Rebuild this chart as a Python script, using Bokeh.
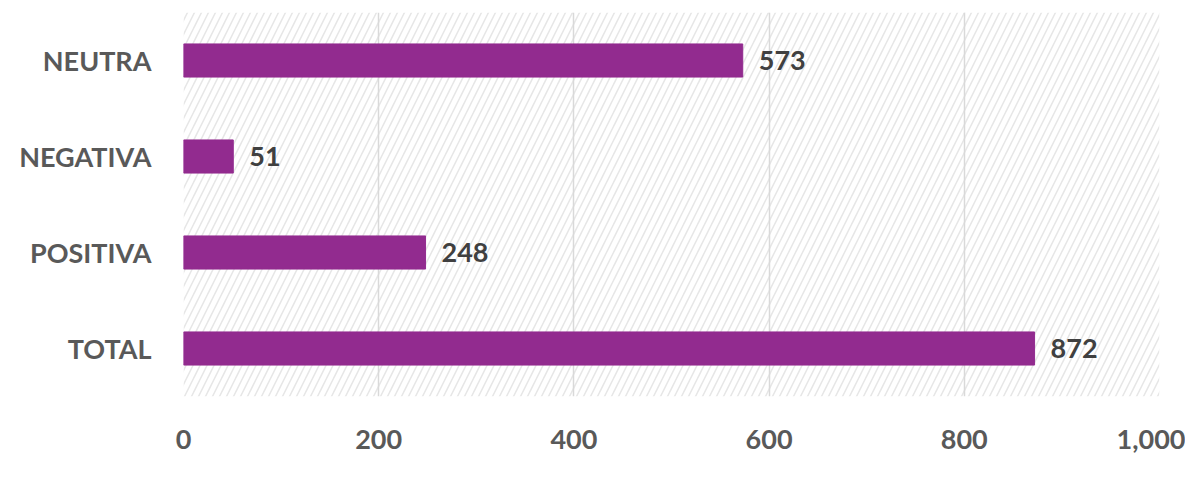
from bokeh.plotting import figure
from bokeh.models import ColumnDataSource, FactorRange, Range1d, FixedTicker, BoxAnnotation, CustomJSTickFormatter
from bokeh.core.properties import value
from bokeh.embed import file_html
from bokeh.resources import INLINE

categories = ["NEUTRA", "NEGATIVA", "POSITIVA", "TOTAL"]
counts = [573, 51, 248, 872]
x_ticks = [0, 200, 400, 600, 800, 1000]

FONT = "Lato"
order = list(reversed(categories))

src = ColumnDataSource(dict(cat=categories, val=counts, lbl=[str(v) for v in counts]))

p = figure(width=1185, height=466, output_backend="svg", toolbar_location=None,
           y_range=FactorRange(factors=order, range_padding=0),
           x_range=Range1d(0, 1000),
           min_border_left=183, min_border_right=26, min_border_top=12, min_border_bottom=70)

p.outline_line_color = None
p.background_fill_color = "white"
p.border_fill_color = "white"

p.add_layout(BoxAnnotation(fill_alpha=0, line_color=None, hatch_pattern="/",
                           hatch_color="#e6e6e6", hatch_scale=14, hatch_weight=1.5, level="image"))

p.hbar(y="cat", right="val", left=0, height=0.345, source=src,
       fill_color="#922B8F", line_color="#922B8F")
p.text(x="val", y="cat", text="lbl", source=src, x_offset=16,
       text_font=value(FONT), text_font_style="bold", text_font_size="27px",
       text_color="#404040", text_baseline="middle", text_align="left")

p.xaxis.ticker = FixedTicker(ticks=x_ticks)
p.xaxis.formatter = CustomJSTickFormatter(code="return tick.toLocaleString('en-US');")
p.xaxis.axis_line_color = None
p.xaxis.major_tick_line_color = None
p.xaxis.minor_tick_line_color = None
p.xaxis.major_label_text_font = FONT
p.xaxis.major_label_text_font_style = "bold"
p.xaxis.major_label_text_font_size = "27px"
p.xaxis.major_label_text_color = "#595959"
p.xaxis.major_label_standoff = 27

p.yaxis.axis_line_color = None
p.yaxis.major_tick_line_color = None
p.yaxis.minor_tick_line_color = None
p.yaxis.major_label_text_font = FONT
p.yaxis.major_label_text_font_style = "bold"
p.yaxis.major_label_text_font_size = "27px"
p.yaxis.major_label_text_color = "#595959"
p.yaxis.major_label_standoff = 26

p.xgrid.grid_line_color = "#d9d9d9"
p.xgrid.grid_line_width = 1.5
p.xgrid.level = "underlay"
p.ygrid.grid_line_color = None

open("out.html", "w").write(file_html(p, INLINE))
